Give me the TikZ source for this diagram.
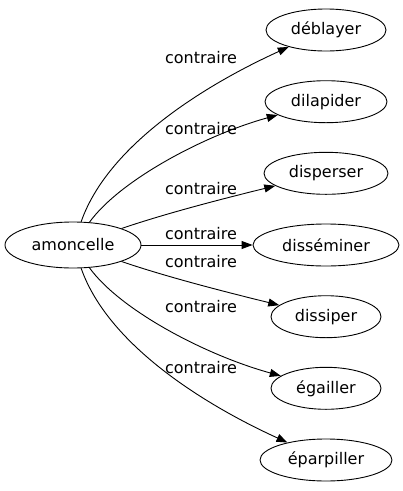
\documentclass[tikz,border=0pt]{standalone}
\usepackage{fontspec}
\setmainfont{DejaVu Sans}
\usetikzlibrary{shapes.geometric,arrows.meta}
\tikzset{
  nd/.style={draw, ellipse, line width=0.9pt, inner sep=0pt, font=\fontsize{16}{19}\selectfont},
  lbl/.style={inner sep=0pt, font=\fontsize{16}{19}\selectfont},
  edge/.style={draw, line width=0.9pt, -{Triangle[length=11pt,width=8pt]}}
}
\begin{document}
\begin{tikzpicture}[x=1pt,y=-1pt]
\useasboundingbox (0,0) rectangle (403,491);
\node[nd, minimum width=136pt, minimum height=46pt] (a) at (73,245) {amoncelle};
\node[nd, minimum width=120pt, minimum height=42pt] (b1) at (326,30) {déblayer};
\node[nd, minimum width=122pt, minimum height=42pt] (b2) at (326,101.7) {dilapider};
\node[nd, minimum width=124pt, minimum height=42pt] (b3) at (326,173.3) {disperser};
\node[nd, minimum width=146pt, minimum height=42pt] (b4) at (326,245) {disséminer};
\node[nd, minimum width=110pt, minimum height=42pt] (b5) at (326,316.7) {dissiper};
\node[nd, minimum width=110pt, minimum height=42pt] (b6) at (326,388.3) {égailler};
\node[nd, minimum width=132pt, minimum height=42pt] (b7) at (326,460) {éparpiller};

\node[lbl] (l1) at (201,58) {contraire};
\node[lbl] (l2) at (201,129) {contraire};
\node[lbl] (l3) at (201,189) {contraire};
\node[lbl] (l4) at (201,234) {contraire};
\node[lbl] (l5) at (201,262) {contraire};
\node[lbl] (l6) at (201,307) {contraire};
\node[lbl] (l7) at (201,368) {contraire};

\path[edge] (a) .. controls (108,145) and (205,85) .. (b1);
\path[edge] (a) .. controls (120,180) and (205,135) .. (b2);
\path[edge] (a) .. controls (170,212) and (230,197) .. (b3);
\path[edge] (a) -- (b4);
\path[edge] (a) .. controls (170,278) and (230,293) .. (b5);
\path[edge] (a) .. controls (120,310) and (205,355) .. (b6);
\path[edge] (a) .. controls (108,345) and (205,405) .. (b7);
\end{tikzpicture}
\end{document}
